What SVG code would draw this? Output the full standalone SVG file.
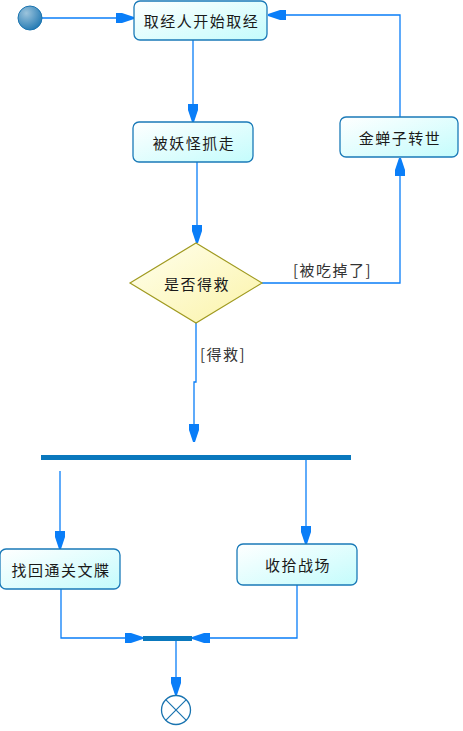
<svg xmlns="http://www.w3.org/2000/svg" width="463" height="731" viewBox="0 0 463 731">
<defs>
<linearGradient id="gNode" x1="0" y1="0" x2="1" y2="1">
<stop offset="0" stop-color="#ffffff"/>
<stop offset="1" stop-color="#c4fcfc"/>
</linearGradient>
<linearGradient id="gDia" x1="0" y1="0" x2="1" y2="1">
<stop offset="0" stop-color="#ffffee"/>
<stop offset="1" stop-color="#fbf3a8"/>
</linearGradient>
<radialGradient id="gStart" cx="0.35" cy="0.3" r="0.8">
<stop offset="0" stop-color="#9cc4dc"/>
<stop offset="1" stop-color="#1a74b0"/>
</radialGradient>
<marker id="arr" markerWidth="20" markerHeight="12" refX="18" refY="6" orient="auto" markerUnits="userSpaceOnUse">
<path d="M0,1 L6,1 L18,5 L18,7 L6,11 L0,11 Z" fill="#0a7ef8"/>
</marker>
</defs>
<style>
.node rect{fill:url(#gNode);stroke:#1a7ab8;stroke-width:1.3}
.lbl{font-family:"Noto Sans CJK SC","Noto Sans",sans-serif;font-size:15px;letter-spacing:1.5px;fill:#1a1a1a;text-anchor:middle;dominant-baseline:central}
.guard{font-family:"Noto Sans CJK SC","Noto Sans",sans-serif;font-size:15px;letter-spacing:1.5px;fill:#333;}
.conn path{fill:none;stroke:#0a7ef8;stroke-width:1.3}
.bar{fill:#0a78bd}
</style>
<g id="connectors" class="conn">
<path d="M42,18 L134,18" marker-end="url(#arr)"/>
<path d="M193,40 L193,122" marker-end="url(#arr)"/>
<path d="M197,162 L197,243" marker-end="url(#arr)"/>
<path d="M262,283 L400,283 L400,158" marker-end="url(#arr)"/>
<path d="M400,117 L400,15 L268,15" marker-end="url(#arr)"/>
<path d="M196,323 L196,382 L194,382 L194,442" marker-end="url(#arr)"/>
<path d="M60,471 L60,549" marker-end="url(#arr)"/>
<path d="M306,459 L306,544" marker-end="url(#arr)"/>
<path d="M61,589 L61,638 L143,638" marker-end="url(#arr)"/>
<path d="M297,585 L297,638 L192,638" marker-end="url(#arr)"/>
<path d="M176,641 L176,695" marker-end="url(#arr)"/>
<text class="guard" x="293" y="276">[被吃掉了]</text>
<text class="guard" x="200" y="360">[得救]</text>
</g>
<g id="start"><circle cx="30" cy="18" r="12" fill="url(#gStart)" stroke="#1a74b0" stroke-width="1"/></g>
<g id="n1" class="node"><rect x="134" y="1" width="133" height="39" rx="6"/><text class="lbl" x="201.5" y="20.5">取经人开始取经</text></g>
<g id="n2" class="node"><rect x="133" y="122" width="120" height="40" rx="6"/><text class="lbl" x="194" y="142">被妖怪抓走</text></g>
<g id="n3" class="node"><rect x="340" y="117" width="118" height="40" rx="6"/><text class="lbl" x="400" y="137">金蝉子转世</text></g>
<g id="decision"><polygon points="196,243 262,283 196,323 130,283" fill="url(#gDia)" stroke="#a09a20" stroke-width="1.2"/><text class="lbl" x="197" y="283">是否得救</text></g>
<g id="fork"><rect class="bar" x="41" y="455" width="310" height="5"/></g>
<g id="n4" class="node"><rect x="0" y="549" width="120" height="40" rx="6"/><text class="lbl" x="61" y="569">找回通关文牒</text></g>
<g id="n5" class="node"><rect x="237" y="544" width="120" height="41" rx="6"/><text class="lbl" x="298" y="564">收拾战场</text></g>
<g id="join"><rect class="bar" x="143" y="636" width="49" height="5"/></g>
<g id="final"><circle cx="176" cy="710" r="14.5" fill="#fff" stroke="#1a74b0" stroke-width="1.3"/><path d="M165.7,699.7 L186.3,720.3 M186.3,699.7 L165.7,720.3" stroke="#1a74b0" stroke-width="1.2"/></g>
</svg>
